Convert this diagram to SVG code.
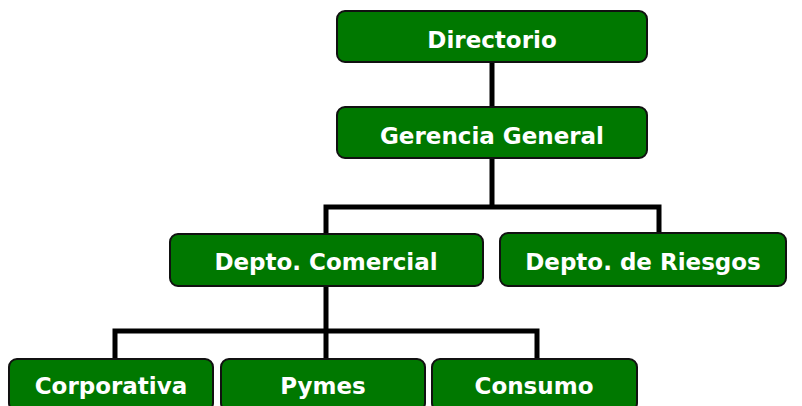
<svg xmlns="http://www.w3.org/2000/svg" width="802" height="406" viewBox="0 0 802 406">
<style>
.box{fill:#007800;stroke:#111;stroke-width:2}
.lbl{fill:#fff;font-family:"DejaVu Sans",Verdana,sans-serif;font-weight:bold;font-size:23px;text-anchor:middle}
.con{fill:none;stroke:#000;stroke-width:5;stroke-linejoin:miter}
</style>
<rect width="802" height="406" fill="#fff"/>
<g id="connectors">
<path class="con" d="M492 62V107"/>
<path class="con" d="M492 158V207H326V234M492 207H659V233"/>
<path class="con" d="M326 286V331H115V359M326 331H537V359M326 331V359"/>
</g>
<g id="directorio"><rect class="box" x="337" y="11" width="310" height="51" rx="8"/><text class="lbl" x="492" y="48">Directorio</text></g>
<g id="gerencia"><rect class="box" x="337" y="107" width="310" height="51" rx="8"/><text class="lbl" x="492" y="144">Gerencia General</text></g>
<g id="comercial"><rect class="box" x="170" y="234" width="313" height="52" rx="8"/><text class="lbl" x="326" y="270">Depto. Comercial</text></g>
<g id="riesgos"><rect class="box" x="500" y="233" width="286" height="53" rx="8"/><text class="lbl" x="643" y="270">Depto. de Riesgos</text></g>
<g id="corporativa"><rect class="box" x="9" y="359" width="204" height="52" rx="8"/><text class="lbl" x="111" y="394">Corporativa</text></g>
<g id="pymes"><rect class="box" x="221" y="359" width="204" height="52" rx="8"/><text class="lbl" x="323" y="394">Pymes</text></g>
<g id="consumo"><rect class="box" x="432" y="359" width="205" height="52" rx="8"/><text class="lbl" x="534" y="394">Consumo</text></g>
</svg>
